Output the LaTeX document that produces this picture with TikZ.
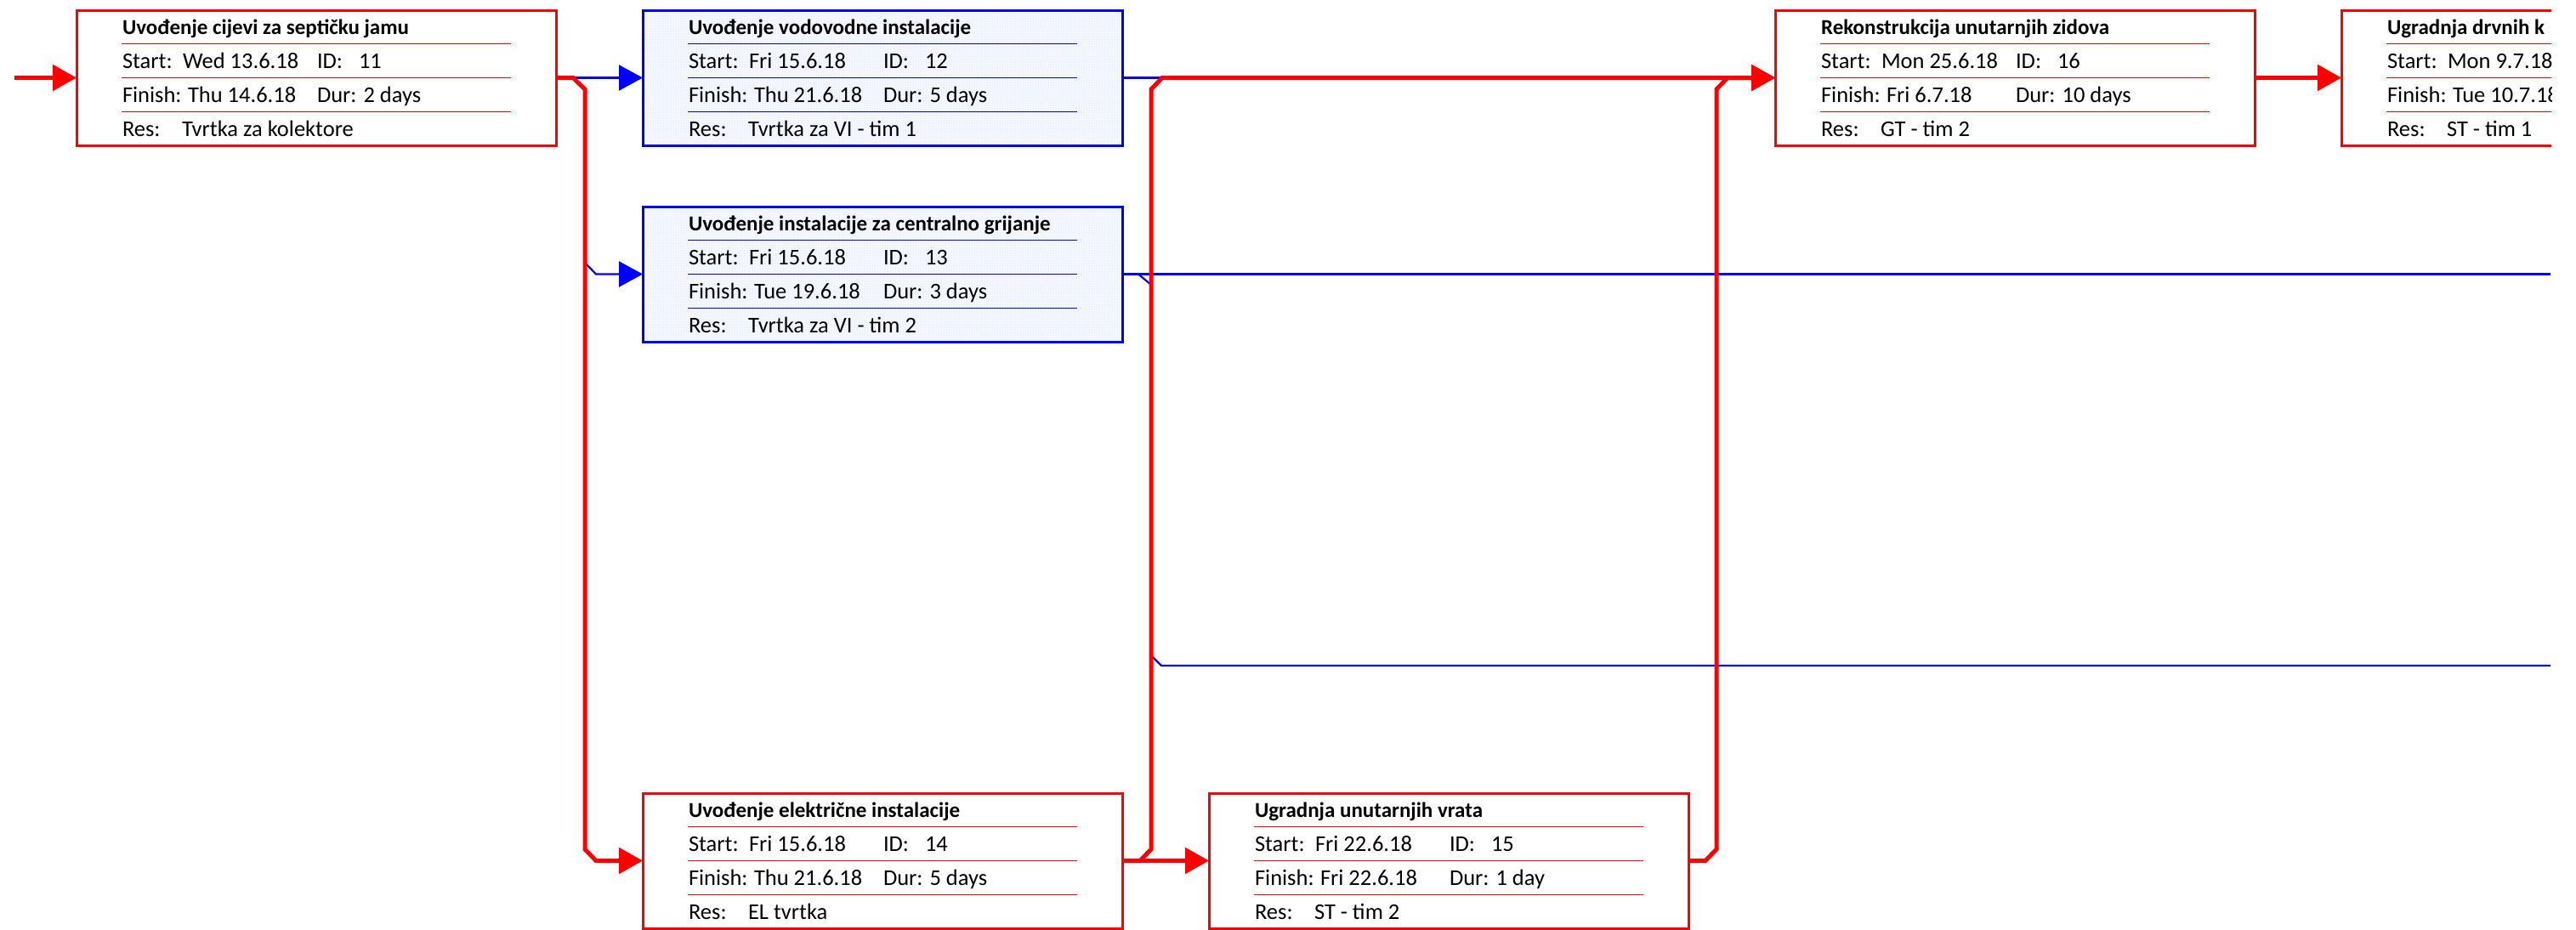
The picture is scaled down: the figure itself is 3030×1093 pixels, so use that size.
\documentclass[tikz,border=0pt]{standalone}
\usepackage{fontspec}
\setmainfont{Carlito}
\usetikzlibrary{arrows.meta,calc,patterns}
\definecolor{cred}{RGB}{255,0,0}
\definecolor{cblue}{RGB}{0,0,255}
\definecolor{bluefill}{RGB}{245,248,254}
\definecolor{bluedot}{RGB}{195,212,245}
\tikzset{
  taskbox/.style={rectangle, minimum width=564pt, minimum height=159pt, inner sep=0pt, outer sep=0pt, line width=3pt, anchor=north west},
  redbox/.style={taskbox, draw=cred, fill=white},
  bluebox/.style={taskbox, draw=cblue, preaction={fill=bluefill}, pattern=dots, pattern color=bluedot},
  divider/.style={draw=#1, line width=1.3pt},
  txt/.style={anchor=base west, inner sep=0pt, outer sep=0pt, font=\fontsize{26.5}{31}\selectfont},
  ttl/.style={txt, font=\fontsize{25}{30}\selectfont\bfseries},
  crit/.style={draw=cred, line width=5pt, -{Triangle[length=28pt,width=30pt]}},
  critline/.style={draw=cred, line width=5pt},
  noncrit/.style={draw=cblue, line width=2.2pt, -{Triangle[length=28pt,width=30pt]}},
  noncritline/.style={draw=cblue, line width=2.2pt},
}
\newcommand\tasktext[8]{%
  \draw[divider=#2] ($(#1.north west)+(53,39.3)$) -- ++(458,0)
                    ($(#1.north west)+(53,79.3)$) -- ++(458,0)
                    ($(#1.north west)+(53,119.3)$) -- ++(458,0);
  \node[ttl] (#1t) at ($(#1.north west)+(54,28)$) {#3};
  \node[txt] (#1sl) at ($(#1.north west)+(54,68.5)$) {Start:};
  \node[txt] (#1sv) at ($(#1.north west)+(125,68.5)$) {#4};
  \node[txt] (#1il) at ($(#1.north west)+(283,68.5)$) {ID:};
  \node[txt] (#1iv) at ($(#1.north west)+(332,68.5)$) {#5};
  \node[txt] (#1fl) at ($(#1.north west)+(54,108.5)$) {Finish:};
  \node[txt] (#1fv) at ($(#1.north west)+(131,108.5)$) {#6};
  \node[txt] (#1dl) at ($(#1.north west)+(283,108.5)$) {Dur: #7};
  \node[txt] (#1rl) at ($(#1.north west)+(54,148)$) {Res:};
  \node[txt] (#1rv) at ($(#1.north west)+(124,148)$) {#8};
}
\begin{document}
\begin{tikzpicture}[x=1pt,y=-1pt]
\useasboundingbox (0,0) rectangle (3030,1093);

% boxes
\node[redbox]  (b11) at (90,12)   {};
\node[bluebox] (b12) at (756,12)  {};
\node[bluebox] (b13) at (756,243) {};
\node[redbox]  (b14) at (756,933) {};
\node[redbox]  (b15) at (1422,933) {};
\node[redbox]  (b16) at (2088,12) {};

\tasktext{b11}{cred}{Uvođenje cijevi za septičku jamu}{Wed 13.6.18}{11}{Thu 14.6.18}{2 days}{Tvrtka za kolektore}
\tasktext{b12}{cblue}{Uvođenje vodovodne instalacije}{Fri 15.6.18}{12}{Thu 21.6.18}{5 days}{Tvrtka za VI - tim 1}
\tasktext{b13}{cblue}{Uvođenje instalacije za centralno grijanje}{Fri 15.6.18}{13}{Tue 19.6.18}{3 days}{Tvrtka za VI - tim 2}
\tasktext{b14}{cred}{Uvođenje električne instalacije}{Fri 15.6.18}{14}{Thu 21.6.18}{5 days}{EL tvrtka}
\tasktext{b15}{cred}{Ugradnja unutarnjih vrata}{Fri 22.6.18}{15}{Fri 22.6.18}{1 day}{ST - tim 2}
\tasktext{b16}{cred}{Rekonstrukcija unutarnjih zidova}{Mon 25.6.18}{16}{Fri 6.7.18}{10 days}{GT - tim 2}

% clipped box at right edge
\begin{scope}
  \clip (0,0) rectangle (3001,1093);
  \node[redbox] (b17) at (2754,12) {};
  \draw[divider=cred] ($(b17.north west)+(53,39.3)$) -- ++(458,0)
                      ($(b17.north west)+(53,79.3)$) -- ++(458,0)
                      ($(b17.north west)+(53,119.3)$) -- ++(458,0);
  \node[ttl] (b17t) at ($(b17.north west)+(54,28)$) {Ugradnja drvnih k};
  \node[txt] (b17sl) at ($(b17.north west)+(54,68.5)$) {Start:};
  \node[txt] (b17sv) at ($(b17.north west)+(125,68.5)$) {Mon 9.7.18};
  \node[txt] (b17fl) at ($(b17.north west)+(54,108.5)$) {Finish:};
  \node[txt] (b17fv) at ($(b17.north west)+(131,108.5)$) {Tue 10.7.18};
  \node[txt] (b17rl) at ($(b17.north west)+(54,148)$) {Res:};
  \node[txt] (b17rv) at ($(b17.north west)+(124,148)$) {ST - tim 1};
\end{scope}

% connector helper coordinates
\coordinate (in)  at (17,91.5);
\coordinate (j1)  at (674,91.5);
\coordinate (c1)  at (688,105);
\coordinate (c2)  at (688,309);
\coordinate (c3)  at (701,322.5);
\coordinate (c4)  at (688,999);
\coordinate (c5)  at (701,1012.5);
\coordinate (d1)  at (1341,1012.5);
\coordinate (d2)  at (1354,999);
\coordinate (d3)  at (1354,105);
\coordinate (d4)  at (1367,91.5);
\coordinate (f1)  at (2006,1012.5);
\coordinate (f2)  at (2019,999);
\coordinate (f3)  at (2019,105);
\coordinate (f4)  at (2032,91.5);
\coordinate (g1)  at (1339,322.5);
\coordinate (g2)  at (1354,335);
\coordinate (g3)  at (1354,771);
\coordinate (g4)  at (1366,783);
\coordinate (e1)  at (3000,322.5);
\coordinate (e2)  at (3000,783);

% non-critical links (blue)
\draw[noncrit] (b11.east) -- (b12.west);
\draw[noncrit] (b11.east) -- (j1) -- (c1) -- (c2) -- (c3) -- (b13.west);
\draw[noncrit] (b12.east) -- (b16.west);
\draw[noncritline] (b13.east) -- (e1);
\draw[noncritline] (b13.east) -- (g1) -- (g2) -- (g3) -- (g4) -- (e2);

% critical links (red)
\draw[crit] (in) -- (b11.west);
\draw[crit] (b11.east) -- (j1) -- (c1) -- (c4) -- (c5) -- (b14.west);
\draw[crit] (b14.east) -- (b15.west);
\draw[crit] (b14.east) -- (d1) -- (d2) -- (d3) -- (d4) -- (b16.west);
\draw[crit] (b15.east) -- (f1) -- (f2) -- (f3) -- (f4) -- (b16.west);
\draw[crit] (b16.east) -- (b17.west);
\end{tikzpicture}
\end{document}
